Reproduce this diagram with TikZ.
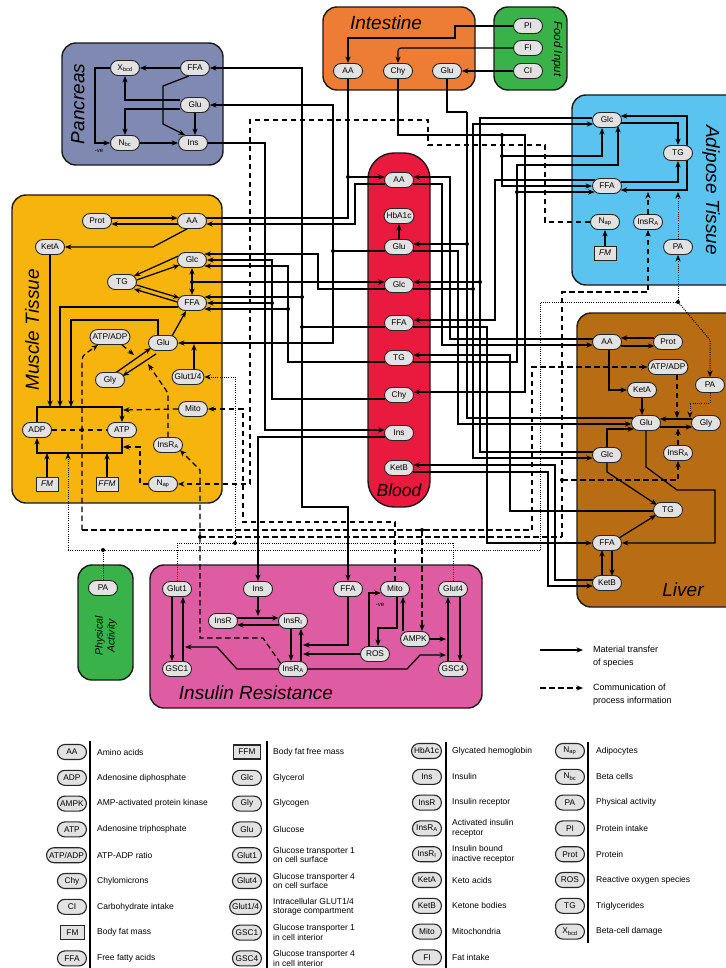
\documentclass[tikz,border=0pt]{standalone}
\usepackage{fontspec}
\setmainfont{Liberation Sans}
\usetikzlibrary{arrows.meta,calc}
\definecolor{ndfill}{RGB}{226,226,226}
\definecolor{cpan}{RGB}{128,137,178}
\definecolor{cint}{RGB}{237,125,52}
\definecolor{cgrn}{RGB}{57,178,74}
\definecolor{cadi}{RGB}{90,195,240}
\definecolor{cmus}{RGB}{247,180,12}
\definecolor{cblo}{RGB}{234,26,62}
\definecolor{cliv}{RGB}{184,108,20}
\definecolor{cir}{RGB}{222,92,162}
\newcommand{\sbx}[1]{\textsubscript{#1}}
\pgfdeclarelayer{bg}
\pgfdeclarelayer{mid}
\pgfsetlayers{bg,mid,main}
\tikzset{
  nd/.style={draw=black!85, fill=ndfill, rounded corners=7.5pt, minimum height=15pt, minimum width=29pt, inner xsep=2.5pt, inner ysep=0pt, font=\fontsize{8.3}{9}\selectfont, line width=0.9pt},
  sq/.style={draw=black!85, fill=ndfill, minimum height=14pt, minimum width=22pt, inner sep=1.5pt, font=\fontsize{8.3}{9}\selectfont\itshape, line width=0.9pt},
  organ/.style={draw=black!90, line width=1.4pt, rounded corners=14pt},
  lab/.style={font=\fontsize{19}{19}\selectfont\itshape, inner sep=0pt},
  arrtip/.style={-{Stealth[length=6.5pt,width=5.2pt]}},
  mt/.style={line width=1.25pt, arrtip},
  ln/.style={line width=1.25pt},
  ci/.style={line width=1.25pt, dash pattern=on 5.5pt off 3.5pt},
  cia/.style={ci, arrtip},
  dt/.style={line width=1pt, dash pattern=on 1pt off 1.2pt},
  dta/.style={dt, arrtip},
  lgt/.style={anchor=west, align=left, inner sep=0pt, font=\fontsize{8.5}{9.5}\selectfont},
  lgn/.style={nd, anchor=east, line width=1.1pt},
  lgs/.style={sq, anchor=east, line width=1.1pt, font=\fontsize{8.3}{9}\selectfont},
  small/.style={font=\fontsize{6}{6}\selectfont, inner sep=0pt}
}
\begin{document}
\begin{tikzpicture}[x=1pt,y=-1pt]
\useasboundingbox (0,0) rectangle (725,968);
\begin{pgfonlayer}{bg}
\fill[white] (0,0) rectangle (725,968);
\draw[organ, fill=cpan] (62,43) rectangle (223,165);
\draw[organ, fill=cint] (323,7) rectangle (475,90);
\draw[organ, fill=cgrn] (494,7) rectangle (567,90);
\draw[organ, fill=cadi] (572,95) rectangle (760,285);
\draw[organ, fill=cmus] (12,195) rectangle (222,503);
\draw[organ, fill=cblo, rounded corners=26pt] (368,153) rectangle (430,507);
\draw[organ, fill=cliv] (577,313) rectangle (760,607);
\draw[organ, fill=cir] (150,565) rectangle (482,708);
\draw[organ, fill=cgrn] (78,565) rectangle (133,680);
\end{pgfonlayer}

% organ labels
\node[lab, rotate=90] (tPan) at (78,104) {Pancreas};
\node[lab] (tInt) at (386,23) {Intestine};
\node[font=\fontsize{11.5}{12}\selectfont\itshape, rotate=-90, inner sep=0pt] (tFood) at (557,49) {Food Input};
\node[lab, rotate=-90] (tAdi) at (711,190) {Adipose Tissue};
\node[lab, rotate=90] (tMus) at (32,330) {Muscle Tissue};
\node[font=\fontsize{17.5}{17.5}\selectfont\itshape, inner sep=0pt] (tBlo) at (399,490) {Blood};
\node[lab] (tLiv) at (683,590) {Liver};
\node[lab] (tIR) at (256,693) {Insulin Resistance};
\node[font=\fontsize{10.5}{12}\selectfont\itshape, rotate=90, align=center, inner sep=0pt] (tPA) at (106,636) {Physical\\Activity};

% Pancreas
\node[nd] (pX) at (125,68) {X\sbx{bcd}};
\node[nd] (pFFA) at (195,68) {FFA};
\node[nd] (pGlu) at (195,105) {Glu};
\node[nd] (pN) at (125,143) {N\sbx{bc}};
\node[nd] (pIns) at (193,143) {Ins};
\node[small] (neg1) at (99,151) {-ve};
% Intestine / food
\node[nd] (iAA) at (348,71) {AA};
\node[nd] (iChy) at (398,71) {Chy};
\node[nd] (iGlu) at (447,71) {Glu};
\node[nd] (fPI) at (528,26) {PI};
\node[nd] (fFI) at (528,48) {FI};
\node[nd] (fCI) at (528,71) {CI};
% Adipose
\node[nd] (aGlc) at (607,120) {Glc};
\node[nd] (aTG) at (678,153) {TG};
\node[nd] (aFFA) at (607,186) {FFA};
\node[nd] (aN) at (605,222) {N\sbx{ap}};
\node[nd] (aInsRA) at (648,222) {InsR\sbx{A}};
\node[sq] (aFM) at (605,253) {FM};
\node[nd] (aPA) at (678,247) {PA};
% Muscle
\node[nd] (mProt) at (97,221) {Prot};
\node[nd] (mAA) at (192,221) {AA};
\node[nd] (mKetA) at (50,247) {KetA};
\node[nd] (mGlc) at (192,260) {Glc};
\node[nd] (mTG) at (122,282) {TG};
\node[nd] (mFFA) at (192,303) {FFA};
\node[nd] (mAtpAdp) at (110,337) {ATP/ADP};
\node[nd] (mGlu) at (163,343) {Glu};
\node[nd] (mGly) at (110,380) {Gly};
\node[nd] (mGlut) at (188,377) {Glut1/4};
\node[nd] (mMito) at (193,409) {Mito};
\node[nd] (mADP) at (37,430) {ADP};
\node[nd] (mATP) at (122,430) {ATP};
\node[nd] (mInsRA) at (168,445) {InsR\sbx{A}};
\node[nd] (mN) at (163,484) {N\sbx{ap}};
\node[sq] (mFM) at (47,484) {FM};
\node[sq] (mFFM) at (107,484) {FFM};
% Blood
\node[nd] (bAA) at (399,180) {AA};
\node[nd] (bHb) at (399,216) {HbA1c};
\node[nd] (bGlu) at (399,247) {Glu};
\node[nd] (bGlc) at (399,285) {Glc};
\node[nd] (bFFA) at (399,323) {FFA};
\node[nd] (bTG) at (399,358) {TG};
\node[nd] (bChy) at (399,395) {Chy};
\node[nd] (bIns) at (399,433) {Ins};
\node[nd] (bKetB) at (399,468) {KetB};
% Liver
\node[nd] (lAA) at (607,342) {AA};
\node[nd] (lProt) at (668,342) {Prot};
\node[nd] (lAtpAdp) at (668,367) {ATP/ADP};
\node[nd] (lPA) at (710,385) {PA};
\node[nd] (lKetA) at (642,390) {KetA};
\node[nd] (lGlu) at (646,423) {Glu};
\node[nd] (lGly) at (706,423) {Gly};
\node[nd] (lGlc) at (607,455) {Glc};
\node[nd] (lInsRA) at (678,453) {InsR\sbx{A}};
\node[nd] (lTG) at (668,510) {TG};
\node[nd] (lFFA) at (607,543) {FFA};
\node[nd] (lKetB) at (607,583) {KetB};
% Insulin resistance
\node[nd] (rGlut1) at (177,589) {Glut1};
\node[nd] (rIns) at (258,589) {Ins};
\node[nd] (rFFA) at (348,589) {FFA};
\node[nd] (rMito) at (395,589) {Mito};
\node[nd] (rGlut4) at (453,589) {Glut4};
\node[nd] (rInsR) at (223,621) {InsR};
\node[nd] (rInsRI) at (293,621) {InsR\sbx{I}};
\node[nd] (rAMPK) at (415,639) {AMPK};
\node[nd] (rROS) at (375,654) {ROS};
\node[nd] (rGSC1) at (177,669) {GSC1};
\node[nd] (rInsRA) at (293,669) {InsR\sbx{A}};
\node[nd] (rGSC4) at (453,669) {GSC4};
\node[small] (neg2) at (380,605) {-ve};
% Physical activity
\node[nd] (paN) at (103,588) {PA};

\begin{pgfonlayer}{mid}
% ---- pancreas
\draw[mt] (pFFA.west) -- (pX.east);
\draw[mt] ($(pGlu.west)+(0,-5)$) -| (pX.south);
\draw[mt] ($(pGlu.west)+(0,4)$) -| (pN.north);
\draw[mt] (pGlu.south) -- (pGlu.south |- pIns.north);
\draw[mt] ($(pFFA.south)+(-6,0)$) -- (163,86) -- (163,124) -- ($(pIns.north)+(-8,0)$);
\draw[mt] (pN.east) -- (pIns.west);
\draw[mt] (pX.west) -- (95,68) -- (95,143) -- (pN.west);
% ---- intestine / food
\draw[mt] (fPI.west) -- (455,26) -- (455,38) -- (348,38) -- (iAA.north);
\draw[mt, rounded corners=3pt] (fFI.west) -| (iChy.north);
\draw[mt] (fCI.west) -- (iGlu.east);
% ---- adipose internal
\draw[mt] ($(aGlc.east)+(-0.7,3)$) -| (aTG.north);
\draw[mt] ($(aTG.center)+(9,0)$) |- ($(aGlc.east)+(-1.3,-4)$);
\draw[mt] ($(aTG.center)+(9,0)$) |- ($(aFFA.east)+(-1.3,4)$);
\draw[mt] ($(aFFA.east)+(-1.3,-4)$) -| (aTG.south);
\draw[cia] (aInsRA.north) -- (648,192);
\draw[dta] (aPA.north) -- (678,192);
\draw[mt] (aFM.north) -- (aN.south);
% ---- muscle internal
\draw[mt] ($(mProt.east)+(-0.7,-3)$) -- ($(mAA.west)+(0.7,-3)$);
\draw[mt] ($(mAA.west)+(0.7,3)$) -- ($(mProt.east)+(-0.7,3)$);
\draw[mt] ($(mAA.south)+(-5,0)$) -- (153,247) -- (mKetA.east);
\draw[mt] (mKetA.south) -- (50,407);
\draw[mt] ($(mFFA.west)+(0.7,4)$) -| (60,407);
\draw[mt] ($(mGlu.north)+(-5,0)$) |- (71,320) -- (71,407);
\draw[mt] (mADP.north) |- (122,407) -- (mATP.north);
\draw[mt] (mATP.south) |- (37,453) -- (mADP.south);
\draw[ci] (mADP.east) -- (mATP.west);
\fill (82,430) circle (2pt);
\draw[mt] (mFM.north) -- (47,453);
\draw[mt] (mFFM.north) -- (107,453);
\draw[mt] ($(mGlc.west)+(1.3,-4)$) -- ($(mTG.east)+(-3,-6)$);
\draw[mt] ($(mTG.east)+(-0.3,-2)$) -- ($(mGlc.west)+(2.5,5)$);
\draw[mt] ($(mTG.east)+(-0.5,3)$) -- ($(mFFA.west)+(2.5,-5)$);
\draw[mt] ($(mFFA.west)+(0.3,-1)$) -- ($(mTG.east)+(-3,7)$);
\draw[{Stealth[length=6.5pt,width=5.2pt]}-{Stealth[length=6.5pt,width=5.2pt]}, line width=1.25pt] (mGlc.south) -- (mFFA.north);
\fill (192,282) circle (2pt);
\draw[mt] ($(mGly)+(6.5,-7.8)$) -- ($(mGlu)+(-12,5)$);
\draw[mt] ($(mGlu)+(-7,11)$) -- ($(mGly)+(12.5,-4)$);
\draw[mt] ($(mGlu)+(9,-7)$) -- ($(mFFA)+(-6,8)$);
\draw[cia] ($(mAtpAdp.south)+(12,0)$) -- (134,355);
\draw[cia, rounded corners=4pt] (82,530) -- (82,356) -- ($(mAtpAdp.south)+(-12,0)$);
\draw[cia, rounded corners=3pt] (mInsRA.north) -- (168,393) -- (148,364);
\draw[mt] ($(mGlut.north)+(6,0)$) -- ($(mGlut.north)+(6,-25)$);
\draw[cia] (mMito.west) -- (123,410);
\draw[cia] (mN.west) -- (140,484) -- (140,447) -- (123,447);
% ---- liver internal
\draw[mt] ($(lProt.west)+(1.2,-4)$) -- ($(lAA.east)+(-1.2,-4)$);
\draw[mt] ($(lAA.east)+(-1.2,4)$) -- ($(lProt.west)+(1.2,4)$);
\draw[mt] ($(lAA.south)+(2,0)$) |- (lKetA.west);
\draw[mt] (lKetA.south) -- (lKetA.south |- lGlu.north);
\draw[mt] ($(lGly.west)+(1.2,-4)$) -- ($(lGlu.east)+(-1.2,-4)$);
\draw[mt] ($(lGlu.east)+(-1.2,4)$) -- ($(lGly.west)+(1.2,4)$);
\draw[cia] ($(lAtpAdp.south)+(9,0)$) -- (677,418);
\draw[dta] (lPA.south) -- (710,403) -- (690,403) -- (690,418);
\draw[cia] (lInsRA.north) -- (678,428.5);
\draw[mt] (lGlc.north) |- ($(lGlu.west)+(3,6)$);
\draw[mt] (lGlc.south) -- (607,472) -- ($(lTG.west)+(4,-5)$);
\draw[mt] (lGlu.south) -- (646,467) -- (677,490) -- (715,490) |- (lFFA.east);
\draw[mt] ($(lFFA.east)+(-3,-5)$) -- ($(lTG.west)+(3,5)$);
\draw[mt] ($(lFFA.south)+(5,0)$) -- ($(lFFA.south)+(5,25)$);
\draw[mt] ($(lKetB.north)+(-5,0)$) -- ($(lKetB.north)+(-5,-25)$);
% ---- insulin resistance internal
\draw[mt] ($(rGlut1.south)+(-5,0)$) -- ($(rGSC1.north)+(-5,0)$);
\draw[mt] ($(rGSC1.north)+(6,0)$) -- ($(rGlut1.south)+(6,0)$);
\draw[mt] (rIns.south) -- (258,616);
\draw[mt] ($(rInsR.east)+(-0.6,-3)$) -- ($(rInsRI.west)+(0.6,-3)$);
\draw[mt] ($(rInsRI.west)+(1,4)$) -- ($(rInsR.east)+(-1,4)$);
\draw[mt] ($(rInsRI.south)+(-2,0)$) -- ($(rInsRA.north)+(-2,0)$);
\draw[mt] ($(rInsRA.north)+(8,0)$) -- ($(rInsRI.south)+(8,0)$);
\draw[mt] (rFFA.south) |- (303,645);
\draw[mt] (rROS.west) -- (303,654);
\draw[mt] ($(rROS.north)+(-6,0)$) |- ($(rMito.west)+(0.8,4)$);
\draw[mt] ($(rMito.south)+(2,0)$) -- (397,628) -| ($(rROS.north)+(3,0)$);
\draw[mt] ($(rAMPK.north)+(-12,0)$) -- ($(rMito.south)+(8,0)$);
\draw[mt] (rAMPK.east) -- (446,639);
\draw[mt] ($(rGSC4.north)+(-5,0)$) -- ($(rGlut4.south)+(-5,0)$);
\draw[mt] ($(rGlut4.south)+(7,0)$) -- ($(rGSC4.north)+(7,0)$);
\draw[mt] (rInsRA.west) -- (237,669) -- (217,647) -- (185,647);
\draw[mt] (rInsRA.east) -- (407,669) -- (420,655) -- (446,655);
% ---- blood internal
\draw[mt] (bGlu.north) -- (bHb.south);

% ---- left side transport
\draw[ln] ($(mAA.east)+(-0.6,-3)$) -| (iAA.south);
\draw[mt] (348,177) -- ($(bAA.west)+(0.6,-3)$);
\fill (348,177) circle (2pt);
\draw[mt] ($(bAA.west)+(0.8,4)$) -| (355,224) -- ($(mAA.east)+(-0.8,3)$);
\draw[mt] (333,251) |- (pGlu.east);
\draw[ln] ($(bGlu.west)+(0.8,4)$) -- (333,251);
\draw[mt] (333,251) |- (mGlu.east);
\fill (333,251) circle (2pt);
\draw[mt] (302,327) |- (pFFA.east);
\draw[ln] ($(bFFA.west)+(0.8,4)$) -- (302,327);
\fill (302,327) circle (2pt);
\draw[mt] (302,327) |- (348,507) -- (rFFA.north);
\draw[mt] (302,297) -- ($(mFFA.east)+(-2.5,-6)$);
\fill (302,297) circle (2pt);
\draw[mt] (pIns.east) -| (265,430) -- ($(bIns.west)+(0.6,-3)$);
\draw[mt] ($(bIns.west)+(0.8,4)$) -| (rIns.north);
\draw[mt] ($(bGlc.west)+(0.8,4)$) -| (318,254) -- ($(mGlc.east)+(-2.5,-6)$);
\draw[mt] (192,282) -- ($(bGlc.west)+(0.6,-3)$);
\draw[mt] ($(bTG.west)+(0.8,4)$) -| (288,266) -- ($(mGlc.east)+(-2.5,6)$);
\draw[mt] (288,309) -- ($(mFFA.east)+(-2.5,6)$);
\fill (288,309) circle (2pt);
\draw[mt] ($(bChy.west)+(0.8,4)$) -| (272,260) -- (mGlc.east);
\draw[mt] (272,303) -- (mFFA.east);
\fill (272,303) circle (2pt);

% ---- right side transport
\draw[mt] ($(bAA.east)+(-0.8,4)$) -| (442,345) -- ($(lAA.west)+(0.8,3)$);
\draw[mt] ($(lAA.west)+(0.8,-3)$) -| (450,177) -- ($(bAA.east)+(-0.6,-3)$);
\draw[ln] (iGlu.south) |- (467,112);
\draw[mt] (467,112) -- (467,244) -- ($(bGlu.east)+(-0.6,-3)$);
\draw[ln] ($(lGlu.west)+(1.5,-5)$) -| (467,244);
\fill (467,244) circle (2pt);
\draw[mt] ($(bGlu.east)+(-0.8,4)$) -| (458,424) -- ($(lGlu.west)+(0.3,1)$);
\draw[ln] ($(aGlc.west)+(0.3,-2)$) -| (480,282);
\draw[ln] ($(lGlc.west)+(0.6,-3)$) -| (480,282);
\draw[mt] (480,282) -- ($(bGlc.east)+(-0.6,-3)$);
\fill (480,282) circle (2pt);
\draw[ln] ($(bGlc.east)+(-0.8,4)$) -- (473,289);
\fill (473,289) circle (2pt);
\draw[mt] (473,289) |- ($(aGlc.west)+(1.2,4)$);
\draw[mt] (473,289) |- ($(lGlc.west)+(0.6,3)$);
\draw[mt] ($(aFFA.west)+(2.5,-6)$) -| (495,320) -- ($(bFFA.east)+(-0.6,-3)$);
\draw[mt] ($(bFFA.east)+(-0.8,4)$) -| (487,543) -- (lFFA.west);
\draw[mt] (iChy.south) |- (525,135) -- (525,392) -- ($(bChy.east)+(-0.6,-3)$);
\fill (502,135) circle (2pt);
\draw[mt] (502,135) -- (502,156) -| ($(aGlc.south)+(-5,0)$);
\draw[mt] (502,156) |- (aFFA.west);
\fill (502,156) circle (2pt);
\draw[ln] ($(bTG.east)+(-0.8,4)$) -| (517,192);
\draw[mt] (517,192) -- (517,165) -| ($(aGlc.south)+(11,-2)$);
\draw[mt] (517,192) -- ($(aFFA.west)+(2.5,6)$);
\fill (517,192) circle (2pt);
\draw[mt] ($(lTG.west)+(0.3,1)$) -| (510,355) -- ($(bTG.east)+(-0.6,-3)$);
\draw[mt] ($(lKetB.west)+(0.6,-3)$) -| (555,465) -- ($(bKetB.east)+(-0.6,-3)$);
\draw[mt] ($(bKetB.east)+(-0.8,4)$) -| (548,586) -- ($(lKetB.west)+(0.8,3)$);

% ---- communication lines
\draw[cia] (aN.west) -- (545,222) -- (545,145) -- (428,145) -- (428,120) -- (250,120) -- (250,484) -- (mN.east);
\draw[ci] (82,530) -- (532,530);
\draw[cia] (532,530) |- (lAtpAdp.west);
\draw[cia] (422,530) -- ($(rAMPK.north)+(7,0)$);
\fill (422,530) circle (2pt);
\draw[ci] (200,537) -- (562,537);
\draw[cia] (562,537) |- (648,292) -- (aInsRA.south);
\draw[cia] (562,480) -| (lInsRA.south);
\fill (562,480) circle (2pt);
\draw[cia] (200,537) -- (200,470) -- ($(mInsRA.east)+(-3,5)$);
\draw[ci] (200,537) -- (200,638) -- (263,638) -- ($(rInsRA.west)+(3,-5)$);
\fill (200,537) circle (2pt);
\draw[cia] (rMito.north) |- (243,522) |- (mMito.east);
\draw[dt] (177,543) -- (453,543);
\draw[dt] (177,543) -- (rGlut1.north);
\draw[dt] (453,543) -- (rGlut4.north);
\draw[dta] (235,543) |- (mGlut.east);
\fill (235,543) circle (2pt);
\draw[dt] (68,550) -- (540,550);
\draw[dta] (68,550) -- (68,453);
\draw[dt] (paN.north) -- (103,550);
\fill (103,550) circle (2pt);
\draw[dt] (540,550) |- (678,302);
\fill (678,302) circle (2pt);
\draw[dta] (678,302) -- (aPA.south);
\draw[dta] (678,302) -- (710,340) -- (lPA.north);
\end{pgfonlayer}

% ---- key of line styles
\coordinate (ka1) at (540,650);
\coordinate (ka2) at (583,650);
\coordinate (kb1) at (540,688);
\coordinate (kb2) at (583,688);
\draw[mt] (ka1) -- (ka2);
\draw[cia] (kb1) -- (kb2);
\node[lgt, font=\fontsize{9}{13}\selectfont] (kt1) at (593,656.5) {Material transfer\\of species};
\node[lgt, font=\fontsize{9}{13}\selectfont] (kt2) at (593,694.5) {Communication of\\process information};

% ---- legend bars
\draw[line width=1.2pt] (90,741) -- (90,968);
\draw[line width=1.2pt] (267,741) -- (267,968);
\draw[line width=1.2pt] (446,742) -- (446,968);
\draw[line width=1.2pt] (588,742) -- (588,943);

% column 1
\node[lgn] (g11) at (87,752) {AA};        \node[lgt] (h11) at (97,752) {Amino acids};
\node[lgn] (g12) at (87,777.8) {ADP};     \node[lgt] (h12) at (97,777.8) {Adenosine diphosphate};
\node[lgn] (g13) at (87,803.6) {AMPK};    \node[lgt] (h13) at (97,803.6) {AMP-activated protein kinase};
\node[lgn] (g14) at (87,829.4) {ATP};     \node[lgt] (h14) at (97,829.4) {Adenosine triphosphate};
\node[lgn] (g15) at (87,855.2) {ATP/ADP}; \node[lgt] (h15) at (97,855.2) {ATP-ADP ratio};
\node[lgn] (g16) at (87,881) {Chy};       \node[lgt] (h16) at (97,881) {Chylomicrons};
\node[lgn] (g17) at (87,906.8) {CI};      \node[lgt] (h17) at (97,906.8) {Carbohydrate intake};
\node[lgs, minimum width=24pt] (g18) at (85,932.6) {FM}; \node[lgt] (h18) at (97,932.6) {Body fat mass};
\node[lgn] (g19) at (87,958.4) {FFA};     \node[lgt] (h19) at (97,958.4) {Free fatty acids};
% column 2
\node[lgs, minimum width=27pt] (g21) at (261,752) {FFM}; \node[lgt] (h21) at (273,752) {Body fat free mass};
\node[lgn] (g22) at (262,777.8) {Glc};    \node[lgt] (h22) at (273,777.8) {Glycerol};
\node[lgn] (g23) at (262,803.6) {Gly};    \node[lgt] (h23) at (273,803.6) {Glycogen};
\node[lgn] (g24) at (262,829.4) {Glu};    \node[lgt] (h24) at (273,829.4) {Glucose};
\node[lgn] (g25) at (262,855.2) {Glut1};  \node[lgt] (h25) at (273,855.2) {Glucose transporter 1\\on cell surface};
\node[lgn] (g26) at (262,881) {Glut4};    \node[lgt] (h26) at (273,881) {Glucose transporter 4\\on cell surface};
\node[lgn] (g27) at (262,906.8) {Glut1/4};\node[lgt] (h27) at (273,906.8) {Intracellular GLUT1/4\\storage compartment};
\node[lgn] (g28) at (262,932.6) {GSC1};   \node[lgt] (h28) at (273,932.6) {Glucose transporter 1\\in cell interior};
\node[lgn] (g29) at (262,958.4) {GSC4};   \node[lgt] (h29) at (273,958.4) {Glucose transporter 4\\in cell interior};
% column 3
\node[lgn] (g31) at (442,751) {HbA1c};    \node[lgt] (h31) at (452,751) {Glycated hemoglobin};
\node[lgn] (g32) at (442,776.8) {Ins};    \node[lgt] (h32) at (452,776.8) {Insulin};
\node[lgn] (g33) at (442,802.6) {InsR};   \node[lgt] (h33) at (452,802.6) {Insulin receptor};
\node[lgn] (g34) at (442,828.4) {InsR\sbx{A}}; \node[lgt] (h34) at (452,828.4) {Activated insulin\\receptor};
\node[lgn] (g35) at (442,854.2) {InsR\sbx{I}}; \node[lgt] (h35) at (452,854.2) {Insulin bound\\inactive receptor};
\node[lgn] (g36) at (442,880) {KetA};     \node[lgt] (h36) at (452,880) {Keto acids};
\node[lgn] (g37) at (442,905.8) {KetB};   \node[lgt] (h37) at (452,905.8) {Ketone bodies};
\node[lgn] (g38) at (442,931.6) {Mito};   \node[lgt] (h38) at (452,931.6) {Mitochondria};
\node[lgn] (g39) at (442,957.4) {FI};     \node[lgt] (h39) at (452,957.4) {Fat intake};
% column 4
\node[lgn] (g41) at (585,751) {N\sbx{ap}};  \node[lgt] (h41) at (596,751) {Adipocytes};
\node[lgn] (g42) at (585,776.8) {N\sbx{bc}};\node[lgt] (h42) at (596,776.8) {Beta cells};
\node[lgn] (g43) at (585,802.6) {PA};     \node[lgt] (h43) at (596,802.6) {Physical activity};
\node[lgn] (g44) at (585,828.4) {PI};     \node[lgt] (h44) at (596,828.4) {Protein intake};
\node[lgn] (g45) at (585,854.2) {Prot};   \node[lgt] (h45) at (596,854.2) {Protein};
\node[lgn] (g46) at (585,880) {ROS};      \node[lgt] (h46) at (596,880) {Reactive oxygen species};
\node[lgn] (g47) at (585,905.8) {TG};     \node[lgt] (h47) at (596,905.8) {Triglycerides};
\node[lgn] (g48) at (585,931.6) {X\sbx{bcd}}; \node[lgt] (h48) at (596,931.6) {Beta-cell damage};
\end{tikzpicture}
\end{document}
